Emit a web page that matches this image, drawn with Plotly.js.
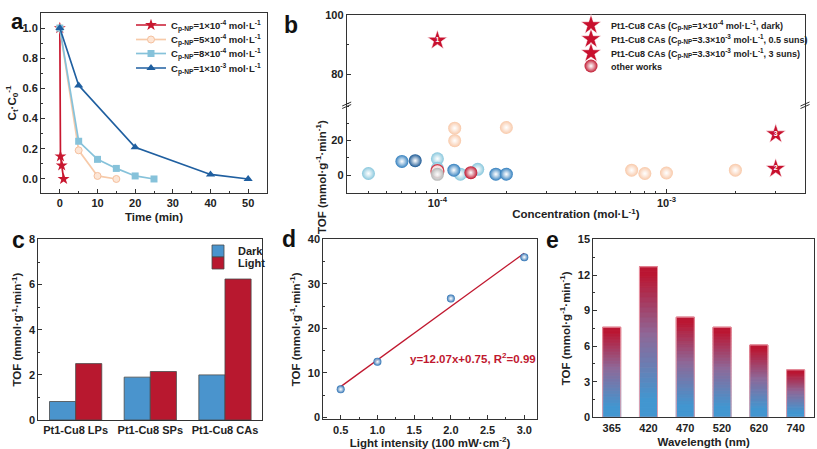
<!DOCTYPE html>
<html>
<head>
<meta charset="utf-8">
<script src="https://cdn.plot.ly/plotly-3.0.1.min.js"></script>
<style>html,body{margin:0;padding:0;background:#fff;}#chart{width:817px;height:449px;}</style>
</head>
<body>
<div id="chart"></div>
<script>
// ---------- Panel a data ----------
const aTimeRed = [0, 0.17, 0.5, 1];
const aRed = [1, 0.15, 0.09, 0];
const aTimePeach = [0, 5, 10, 15];
const aPeach = [1, 0.19, 0.02, 0];
const aTimeLightBlue = [0, 5, 10, 15, 20, 25];
const aLightBlue = [1, 0.25, 0.13, 0.07, 0.02, 0];
const aTimeDarkBlue = [0, 5, 20, 40, 50];
const aDarkBlue = [1, 0.62, 0.21, 0.03, 0];
const aNames = [
  'C<sub>p-NP</sub>=1×10<sup>-4</sup> mol·L<sup>-1</sup>',
  'C<sub>p-NP</sub>=5×10<sup>-4</sup> mol·L<sup>-1</sup>',
  'C<sub>p-NP</sub>=8×10<sup>-4</sup> mol·L<sup>-1</sup>',
  'C<sub>p-NP</sub>=1×10<sup>-3</sup> mol·L<sup>-1</sup>'
];

// ---------- Panel b data ----------
const bStar1X = [1e-4], bStar1Y = [91.4];
const bStar2X = [3e-3], bStar2Y = [3.8];
const bStar3X = [3e-3], bStar3Y = [23.8];
const bStarNames = [
  'Pt1-Cu8 CAs (C<sub>p-NP</sub>=1×10<sup>-4</sup> mol·L<sup>-1</sup>, dark)',
  'Pt1-Cu8 CAs (C<sub>p-NP</sub>=3.3×10<sup>-3</sup> mol·L<sup>-1</sup>, 0.5 suns)',
  'Pt1-Cu8 CAs (C<sub>p-NP</sub>=3.3×10<sup>-3</sup> mol·L<sup>-1</sup>, 3 suns)'
];
const otherLightBlueX = [5e-5, 1e-4, 1e-4, 1.26e-4, 1.5e-4];
const otherLightBlueY = [1.0, 9.5, 4.0, 0.6, 3.4];
const otherBlueX = [7e-5, 1.18e-4, 1.8e-4, 2e-4];
const otherBlueY = [8.0, 2.9, 0.6, 0.6];
const otherDarkBlueX = [8e-5];
const otherDarkBlueY = [8.4];
const otherPeachX = [1.19e-4, 1.19e-4, 2e-4, 7.05e-4, 8.05e-4, 1e-3, 2e-3];
const otherPeachY = [27.2, 20.0, 27.6, 2.9, 1.0, 1.3, 2.9];
const otherRingX = [1e-4], otherRingY = [2.4];
const otherGrayX = [1e-4], otherGrayY = [0.5];
const otherRedX = [1.4e-4], otherRedY = [1.5];

// ---------- Panel c data ----------
const cCats = ['Pt1-Cu8 LPs', 'Pt1-Cu8 SPs', 'Pt1-Cu8 CAs'];
const cDark = [0.82, 1.9, 2.0];
const cLight = [2.5, 2.15, 6.25];

// ---------- Panel d data ----------
const dIntensity = [0.5, 1.0, 2.0, 3.0];
const dTof = [6.3, 12.5, 26.7, 36.0];
const dFitX = [0.5, 3.0];
const dFitY = [6.9, 36.9];

// ---------- Panel e data ----------
const eWave = ['365', '420', '470', '520', '620', '740'];
const eTof = [7.6, 12.7, 8.45, 7.6, 6.1, 4.0];

// ---------- helpers ----------
const W = 817, H = 449;
const px = v => v / W;
const py = v => 1 - v / H;
const FONT = 'Liberation Sans, Arial, sans-serif';
const tickFont = {family: FONT, size: 11, color: '#222', weight: 'bold'};
const titleFont = {family: FONT, size: 11.5, color: '#222', weight: 'bold'};

function baseAxis(extra) {
  return Object.assign({
    showline: true, linecolor: '#333', linewidth: 1, mirror: true,
    ticks: 'inside', ticklen: 4, tickwidth: 1, tickcolor: '#333',
    showgrid: false, zeroline: false, tickfont: tickFont,
    fixedrange: true
  }, extra);
}

const traces = [];

// Panel a
traces.push({x: aTimeRed, y: aRed, name: aNames[0], mode: 'lines+markers', xaxis: 'x', yaxis: 'y', legend: 'legend',
  line: {color: '#c8172f', width: 1.7}, marker: {symbol: 'star', size: 9, color: '#c8172f'}});
traces.push({x: aTimePeach, y: aPeach, name: aNames[1], mode: 'lines+markers', xaxis: 'x', yaxis: 'y', legend: 'legend4',
  line: {color: '#f7caa9', width: 1.7}, marker: {symbol: 'circle', size: 7, color: '#fde6d6', line: {color: '#f5c09e', width: 1}}});
traces.push({x: aTimeLightBlue, y: aLightBlue, name: aNames[2], mode: 'lines+markers', xaxis: 'x', yaxis: 'y', legend: 'legend5',
  line: {color: '#86c2da', width: 1.7}, marker: {symbol: 'square', size: 7, color: '#86c2da'}});
traces.push({x: aTimeDarkBlue, y: aDarkBlue, name: aNames[3], mode: 'lines+markers', xaxis: 'x', yaxis: 'y', legend: 'legend6',
  line: {color: '#1f5fa0', width: 1.7}, marker: {symbol: 'triangle-up', size: 8, color: '#1f5fa0'}});

// Panel b
function sphere(x, y, color, name, show, lineColor) {
  return {x: x, y: y, mode: 'markers', xaxis: 'x2', yaxis: 'y2', name: name, showlegend: show, legend: 'legend9',
    marker: {size: 13, color: color, gradient: {type: 'radial', color: 'rgba(255,255,255,0.85)'},
      line: {width: lineColor ? 1.2 : 0, color: lineColor || color}}};
}
traces.push(sphere(otherPeachX, otherPeachY, '#f8c8a8', 'peach', false));
traces.push(sphere(otherLightBlueX, otherLightBlueY, '#86c6dc', 'lightblue', false));
traces.push(sphere(otherBlueX, otherBlueY, '#2f7dbd', 'blue', false));
traces.push(sphere(otherDarkBlueX, otherDarkBlueY, '#175592', 'darkblue', false));
traces.push(sphere(otherRingX, otherRingY, '#f6d3d3', 'ring', false, '#d23a4a'));
traces.push(sphere(otherGrayX, otherGrayY, '#b4b4b4', 'gray', false));
function star(x, y, xaxis, yaxis, name, label, legendId) {
  return {x: x, y: y, mode: 'markers+text', text: [label], textposition: 'middle center',
    textfont: {family: FONT, size: 7, color: '#ffffff', weight: 'bold'},
    xaxis: xaxis, yaxis: yaxis, name: name, legend: legendId,
    marker: {symbol: 'star', size: 15, color: '#c8102e', line: {color: '#ffffff', width: 0.6}}};
}
traces.push(star(bStar1X, bStar1Y, 'x3', 'y3', bStarNames[0], '1', 'legend2'));
traces.push(star(bStar2X, bStar2Y, 'x2', 'y2', bStarNames[1], '2', 'legend7'));
traces.push(star(bStar3X, bStar3Y, 'x2', 'y2', bStarNames[2], '3', 'legend8'));
traces.push(sphere(otherRedX, otherRedY, '#c0152d', 'other works', true));

// Panel c
traces.push({type: 'bar', x: cCats, y: cDark, name: 'Dark', xaxis: 'x4', yaxis: 'y4', legend: 'legend3',
  offset: -0.35, width: 0.35, marker: {color: '#4a94cd', line: {color: '#4a4a4a', width: 0.8}}});
traces.push({type: 'bar', x: cCats, y: cLight, name: 'Light', xaxis: 'x4', yaxis: 'y4', legend: 'legend10',
  offset: 0, width: 0.35, marker: {color: '#b8182f', line: {color: '#4a4a4a', width: 0.8}}});

// Panel d
traces.push({x: dFitX, y: dFitY, mode: 'lines', xaxis: 'x5', yaxis: 'y5', showlegend: false, name: 'fit',
  line: {color: '#c0182f', width: 1.3}});
traces.push({x: dIntensity, y: dTof, mode: 'markers', xaxis: 'x5', yaxis: 'y5', showlegend: false, name: 'TOF',
  marker: {size: 8, color: '#2a6fb2', gradient: {type: 'radial', color: 'rgba(255,255,255,0.8)'}}});

// Panel e : bars drawn as vertical colour slices (blue at base -> red at top)
function gradColor(t) {
  const blue = [66, 150, 208], mid = [142, 104, 152], redc = [186, 22, 50];
  let a, b, f;
  if (t < 0.12) return 'rgb(' + blue.join(',') + ')';
  if (t < 0.55) { a = blue; b = mid; f = (t - 0.12) / 0.43; }
  else if (t < 0.95) { a = mid; b = redc; f = (t - 0.55) / 0.40; }
  else return 'rgb(' + redc.join(',') + ')';
  return 'rgb(' + a.map((v, i) => Math.round(v + (b[i] - v) * f)).join(',') + ')';
}
const NS = 30;
for (let k = 0; k < NS; k++) {
  const col = gradColor((k + 0.5) / NS);
  traces.push({type: 'bar', x: eWave, y: eTof.map(v => v / NS), base: eTof.map(v => v * k / NS),
    width: 0.49, xaxis: 'x6', yaxis: 'y6', showlegend: false, hoverinfo: 'skip',
    marker: {color: col, line: {width: 1, color: col}}});
}
traces.push({type: 'bar', x: eWave, y: eTof, name: 'TOF', width: 0.49, xaxis: 'x6', yaxis: 'y6', showlegend: false,
  marker: {color: 'rgba(0,0,0,0)', line: {color: 'rgba(238,160,172,0.9)', width: 1}}});

// ---------- layout ----------
const bLeft = 346.7, bRight = 805, bBreak = 105;
function leg(xp, yp, size) {
  return {x: px(xp), y: py(yp), xanchor: 'left', yanchor: 'middle', bgcolor: 'rgba(0,0,0,0)',
    font: {family: FONT, size: size, color: '#222', weight: 'bold'}, tracegroupgap: 0, itemwidth: 30,
    borderwidth: 0};
}
const layout = {
  width: W, height: H,
  margin: {l: 0, r: 0, t: 0, b: 0},
  paper_bgcolor: '#ffffff', plot_bgcolor: 'rgba(0,0,0,0)',
  barmode: 'overlay',
  font: {family: FONT, color: '#222'},
  showlegend: true,
  // a
  xaxis: baseAxis({domain: [px(41), px(267)], anchor: 'y', range: [-5, 55], tick0: 0, dtick: 10,
    minor: {dtick: 5, ticks: 'inside', ticklen: 2, tickcolor: '#333'},
    title: {text: 'Time (min)', font: titleFont, standoff: 4}}),
  yaxis: baseAxis({domain: [py(193), py(13)], anchor: 'x', range: [-0.093, 1.1], tick0: 0, dtick: 0.2, tickformat: '.1f',
    minor: {dtick: 0.1, ticks: 'inside', ticklen: 2, tickcolor: '#333'},
    title: {text: 'C<sub>t</sub>·C<sub>0</sub><sup>-1</sup>', font: titleFont, standoff: 3}}),
  // b lower
  xaxis2: baseAxis({domain: [px(bLeft), px(bRight)], anchor: 'y2', type: 'log', range: [-4.396, -2.395], mirror: false,
    tickmode: 'array', tickvals: [1e-4, 1e-3], ticktext: ['10<sup>-4</sup>', '10<sup>-3</sup>'],
    minor: {tickmode: 'array', tickvals: [5e-5, 6e-5, 7e-5, 8e-5, 9e-5, 2e-4, 3e-4, 4e-4, 5e-4, 6e-4, 7e-4, 8e-4, 9e-4, 2e-3, 3e-3],
      ticks: 'inside', ticklen: 2, tickcolor: '#333'},
    title: {text: 'Concentration (mol·L<sup>-1</sup>)', font: titleFont, standoff: 2}}),
  yaxis2: baseAxis({domain: [py(192.7), py(bBreak)], anchor: 'x2', range: [-10.1, 40.6],
    tickmode: 'array', tickvals: [0, 20],
    minor: {tickmode: 'linear', tick0: 0, dtick: 10, ticks: 'inside', ticklen: 2, tickcolor: '#333'}}),
  // b upper
  xaxis3: baseAxis({domain: [px(bLeft), px(bRight)], anchor: 'y3', type: 'log', matches: 'x2', side: 'top', mirror: false,
    showticklabels: false, ticks: ''}),
  yaxis3: baseAxis({domain: [py(bBreak), py(14.7)], anchor: 'x3', range: [69.5, 100.1],
    tickmode: 'array', tickvals: [80, 100],
    minor: {tickmode: 'linear', tick0: 0, dtick: 10, ticks: 'inside', ticklen: 2, tickcolor: '#333'}}),
  // c
  xaxis4: baseAxis({domain: [px(38.3), px(262.3)], anchor: 'y4', type: 'category', range: [-0.5, 2.5], ticks: '',
    tickangle: 0, tickfont: {family: FONT, size: 11, color: '#222', weight: 'bold'}}),
  yaxis4: baseAxis({domain: [py(420), py(239.3)], anchor: 'x4', range: [0, 8.01], tick0: 0, dtick: 2,
    minor: {dtick: 1, ticks: 'inside', ticklen: 2, tickcolor: '#333'},
    title: {text: 'TOF (mmol·g<sup>-1</sup>·min<sup>-1</sup>)', font: titleFont, standoff: 4}}),
  // d
  xaxis5: baseAxis({domain: [px(323.3), px(536.7)], anchor: 'y5', range: [0.263, 3.169], tick0: 0.5, dtick: 0.5, tickformat: '.1f',
    minor: {dtick: 0.25, ticks: 'inside', ticklen: 2, tickcolor: '#333'},
    title: {text: 'Light intensity (100 mW·cm<sup>-2</sup>)', font: titleFont, standoff: 5}}),
  yaxis5: baseAxis({domain: [py(419.3), py(239.3)], anchor: 'x5', range: [-0.45, 40.02], tick0: 0, dtick: 10,
    minor: {dtick: 5, ticks: 'inside', ticklen: 2, tickcolor: '#333'},
    title: {text: 'TOF (mmol·g<sup>-1</sup>·min<sup>-1</sup>)', font: titleFont, standoff: 4}}),
  // e
  xaxis6: baseAxis({domain: [px(593.3), px(814)], anchor: 'y6', type: 'category', range: [-0.5, 5.5], ticks: '',
    tickangle: 0, title: {text: 'Wavelength (nm)', font: titleFont, standoff: 5}}),
  yaxis6: baseAxis({domain: [py(417.3), py(239.3)], anchor: 'x6', range: [0, 15.02], tick0: 0, dtick: 3,
    minor: {dtick: 1.5, ticks: 'inside', ticklen: 2, tickcolor: '#333'},
    title: {text: 'TOF (mmol·g<sup>-1</sup>·min<sup>-1</sup>)', font: titleFont, standoff: 4}}),
  // legends (one per row for exact placement)
  legend: leg(131, 25, 9.5),
  legend4: leg(131, 39.5, 9.5),
  legend5: leg(131, 53.5, 9.5),
  legend6: leg(131, 68, 9.5),
  legend2: leg(571, 25, 9),
  legend7: leg(571, 39, 9),
  legend8: leg(571, 53, 9),
  legend9: leg(571, 66, 9),
  legend3: leg(198, 251, 11),
  legend10: leg(198, 263, 11),
  annotations: [
    {text: 'a', x: px(10), y: py(8), xref: 'paper', yref: 'paper', showarrow: false, borderpad: 0, font: {family: FONT, size: 22, weight: 'bold', color: '#111'}},
    {text: 'b', x: px(291), y: py(10), xref: 'paper', yref: 'paper', showarrow: false, font: {family: FONT, size: 23, weight: 'bold', color: '#111'}},
    {text: 'c', x: px(10), y: py(240), xref: 'paper', yref: 'paper', showarrow: false, font: {family: FONT, size: 23, weight: 'bold', color: '#111'}},
    {text: 'd', x: px(289), y: py(239), xref: 'paper', yref: 'paper', showarrow: false, font: {family: FONT, size: 23, weight: 'bold', color: '#111'}},
    {text: 'e', x: px(561), y: py(240), xref: 'paper', yref: 'paper', showarrow: false, font: {family: FONT, size: 23, weight: 'bold', color: '#111'}},
    {text: 'TOF (mmol·g<sup>-1</sup>·min<sup>-1</sup>)', textangle: -90, x: px(321), y: py(118), xref: 'paper', yref: 'paper',
      showarrow: false, font: titleFont},
    {text: 'y=12.07x+0.75, R<sup>2</sup>=0.99', x: 2.3, y: 13.3, xref: 'x5', yref: 'y5', showarrow: false,
      font: {family: FONT, size: 11.5, weight: 'bold', color: '#c0182f'}}
  ],
  shapes: [
    {type: 'line', xref: 'paper', yref: 'paper', x0: px(bLeft - 4.5), y0: py(bBreak + 1), x1: px(bLeft + 4.5), y1: py(bBreak - 3), line: {color: '#333', width: 1}},
    {type: 'line', xref: 'paper', yref: 'paper', x0: px(bLeft - 4.5), y0: py(bBreak + 3.5), x1: px(bLeft + 4.5), y1: py(bBreak - 0.5), line: {color: '#333', width: 1}},
    {type: 'line', xref: 'paper', yref: 'paper', x0: px(bRight - 4.5), y0: py(bBreak + 1), x1: px(bRight + 4.5), y1: py(bBreak - 3), line: {color: '#333', width: 1}},
    {type: 'line', xref: 'paper', yref: 'paper', x0: px(bRight - 4.5), y0: py(bBreak + 3.5), x1: px(bRight + 4.5), y1: py(bBreak - 0.5), line: {color: '#333', width: 1}}
  ]
};

Plotly.newPlot('chart', traces, layout, {displayModeBar: false, staticPlot: true});
</script>
</body>
</html>
